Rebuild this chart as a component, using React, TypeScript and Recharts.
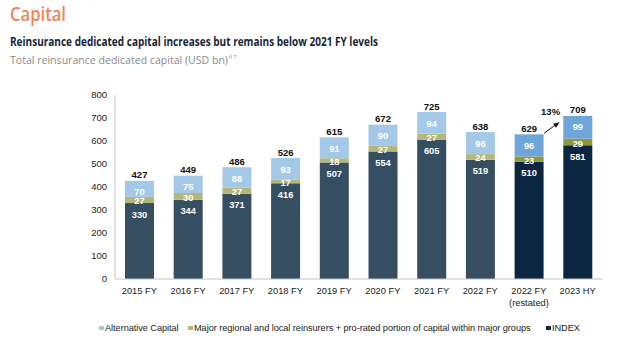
import React from 'react';
import { BarChart, Bar, XAxis, YAxis, Cell, LabelList } from 'recharts';

const categories = ['2015 FY', '2016 FY', '2017 FY', '2018 FY', '2019 FY', '2020 FY', '2021 FY', '2022 FY', '2022 FY (restated)', '2023 HY'];
const indexCapital = [330, 344, 371, 416, 507, 554, 605, 519, 510, 581];
const majorRegional = [27, 30, 27, 17, 18, 27, 27, 24, 23, 29];
const alternativeCapital = [70, 75, 88, 93, 91, 90, 94, 96, 96, 99];
const totals = [427, 449, 486, 526, 615, 672, 725, 638, 629, 709];
const highlighted = ['2022 FY (restated)', '2023 HY'];
const growthFrom = '2022 FY (restated)';
const growthLabel = '13%';
const yTicks = [0, 100, 200, 300, 400, 500, 600, 700, 800];
const seriesNames = {
  alt: 'Alternative Capital',
  major: 'Major regional and local reinsurers + pro-rated portion of capital within major groups',
  index: 'INDEX',
};
const titleText = 'Capital';
const subtitleText = 'Reinsurance dedicated capital increases but remains below 2021 FY levels';
const unitText = 'Total reinsurance dedicated capital (USD bn)';
const footnoteMarks = '6 7';

const data = categories.map((c, i) => ({
  category: c,
  index: indexCapital[i],
  major: majorRegional[i],
  alt: alternativeCapital[i],
  total: totals[i],
}));

const COLORS = {
  index: '#354E62',
  indexHi: '#0C2540',
  major: '#B3B87A',
  majorHi: '#8C993E',
  alt: '#A4C8E8',
  altHi: '#6FA6DA',
};

const FONT = '"Liberation Sans", Arial, sans-serif';
const HEAD_FONT = '"Open Sans", "Noto Sans", sans-serif';

const XTick = (props: any) => {
  const { x, y, payload } = props;
  const v: string = payload.value;
  const idx = v.indexOf(' (');
  const l1 = idx >= 0 ? v.slice(0, idx) : v;
  const l2 = idx >= 0 ? v.slice(idx + 1) : null;
  return (
    <g>
      <text x={x} y={y + 7} textAnchor="middle" fontSize={9.3} fill="#222" fontFamily={FONT}>{l1}</text>
      {l2 && (
        <text x={x} y={y + 19} textAnchor="middle" fontSize={9.3} fill="#222" fontFamily={FONT}>{l2}</text>
      )}
    </g>
  );
};

const topLabel = (props: any) => {
  const { x, y, width, value } = props;
  return (
    <text x={x + width / 2} y={y + 11.5} textAnchor="middle" dominantBaseline="central" fontSize={9.3} fontWeight="bold" fill="#fff" fontFamily={FONT}>{value}</text>
  );
};

const midLabel = (props: any) => {
  const { x, y, width, height, value } = props;
  return (
    <text x={x + width / 2} y={y + height / 2 + 1.5} textAnchor="middle" dominantBaseline="central" fontSize={9.3} fontWeight="bold" fill="#fff" fontFamily={FONT}>{value}</text>
  );
};

const totalLabel = (props: any) => {
  const { x, y, width, value, index } = props;
  const cat = categories[index];
  const right = x + width;
  return (
    <g>
      <text x={x + width / 2} y={y - 6} textAnchor="middle" dominantBaseline="central" fontSize={9.5} fontWeight="bold" fill="#111" fontFamily={FONT}>{value}</text>
      {cat === growthFrom && (
        <g>
          <line x1={right + 0.5} y1={y - 1} x2={right + 12} y2={y - 9.5} stroke="#111" strokeWidth={1} />
          <polygon points={`${right + 16},${y - 12} ${right + 9.5},${y - 10.5} ${right + 12.5},${y - 6.5}`} fill="#111" />
          <text x={right + 7} y={y - 22.5} textAnchor="middle" dominantBaseline="central" fontSize={9.5} fontWeight="bold" fill="#111" fontFamily={FONT}>{growthLabel}</text>
        </g>
      )}
    </g>
  );
};

const legendItems = [
  { name: seriesNames.alt, color: COLORS.alt, left: 99 },
  { name: seriesNames.major, color: COLORS.major, left: 188 },
  { name: seriesNames.index, color: COLORS.indexHi, left: 546 },
];

export default function App() {
  return (
    <div style={{ position: 'absolute', left: 0, top: 0, width: 620, height: 352, background: '#fff', overflow: 'hidden' }}>
      <svg width={620} height={72} style={{ position: 'absolute', left: 0, top: 0 }}>
        <text x={10} y={21} fontSize={19} fontWeight={600} fill="#F0845A" fontFamily={HEAD_FONT} textLength={56} lengthAdjust="spacingAndGlyphs">{titleText}</text>
        <text x={10} y={46} fontSize={12} fontWeight="bold" fill="#15263a" fontFamily={HEAD_FONT} textLength={368} lengthAdjust="spacingAndGlyphs">{subtitleText}</text>
        <text x={10} y={64} fontSize={10.5} fill="#8a8a8a" fontFamily={HEAD_FONT} textLength={218} lengthAdjust="spacingAndGlyphs">{unitText}</text>
        <text x={229} y={59} fontSize={5.5} fill="#8a8a8a" fontFamily={HEAD_FONT}>{footnoteMarks}</text>
      </svg>
      <div style={{ position: 'absolute', left: 0, top: 0 }}>
        <BarChart width={620} height={352} data={data} margin={{ top: 95, right: 18, left: 0, bottom: 43 }}>
          <XAxis dataKey="category" height={30} tickLine={false} axisLine={{ stroke: '#c4c4c4' }} tick={<XTick />} interval={0} />
          <YAxis width={115} domain={[0, 800]} ticks={yTicks} tickLine={false} axisLine={{ stroke: '#c4c4c4' }} tick={{ fontSize: 9.5, fill: '#222', fontFamily: FONT }} />
          <Bar dataKey="index" stackId="a" barSize={29} isAnimationActive={false} name={seriesNames.index}>
            {data.map((d) => (
              <Cell key={d.category} fill={highlighted.includes(d.category) ? COLORS.indexHi : COLORS.index} />
            ))}
            <LabelList dataKey="index" content={topLabel} />
          </Bar>
          <Bar dataKey="major" stackId="a" barSize={29} isAnimationActive={false} name={seriesNames.major}>
            {data.map((d) => (
              <Cell key={d.category} fill={highlighted.includes(d.category) ? COLORS.majorHi : COLORS.major} />
            ))}
            <LabelList dataKey="major" content={midLabel} />
          </Bar>
          <Bar dataKey="alt" stackId="a" barSize={29} isAnimationActive={false} name={seriesNames.alt}>
            {data.map((d) => (
              <Cell key={d.category} fill={highlighted.includes(d.category) ? COLORS.altHi : COLORS.alt} />
            ))}
            <LabelList dataKey="alt" content={topLabel} />
            <LabelList dataKey="total" content={totalLabel} />
          </Bar>
        </BarChart>
      </div>
      {legendItems.map((it) => (
        <div key={it.name} style={{ position: 'absolute', left: it.left, top: 322, height: 12, display: 'flex', alignItems: 'center', fontFamily: FONT, fontSize: 9.2, color: '#222', whiteSpace: 'nowrap', letterSpacing: -0.05 }}>
          <span style={{ display: 'inline-block', width: 4.5, height: 4.5, background: it.color, marginRight: 1.5 }} />
          <span>{it.name}</span>
        </div>
      ))}
    </div>
  );
}
